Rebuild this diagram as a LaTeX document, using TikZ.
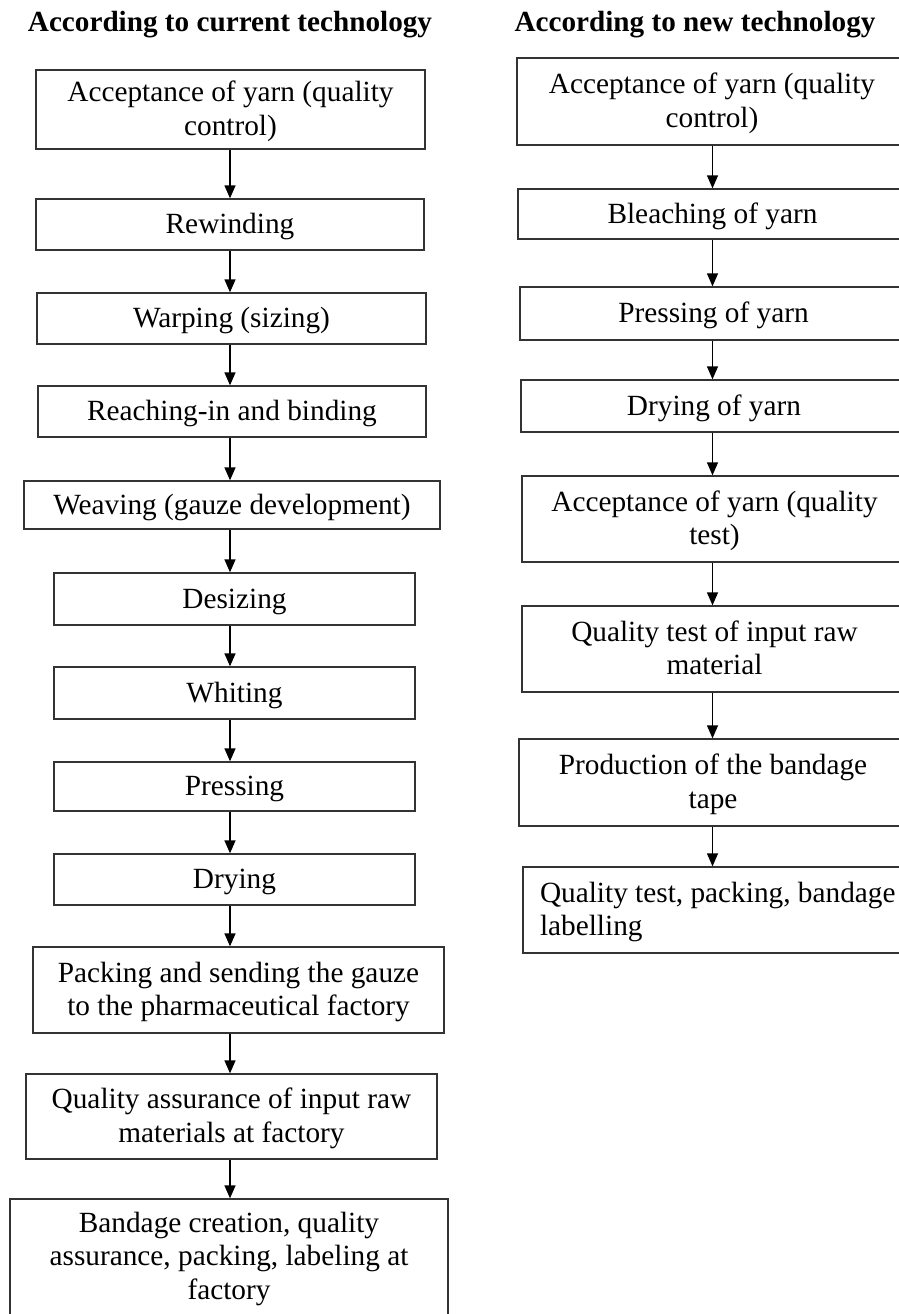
\documentclass[tikz,border=0pt]{standalone}
\usepackage{fontspec}
\setmainfont{Liberation Serif}
\usetikzlibrary{arrows.meta}
\newcommand\Ts{\rule{0pt}{25pt}}
\newcommand\Bs[1][6.6pt]{\rule[-#1]{0pt}{#1}}
\definecolor{edgecol}{gray}{0.2}
\begin{document}
\begin{tikzpicture}[x=1pt,y=-1pt,
  box/.style={draw=edgecol, line width=1.3pt, inner sep=0pt, align=flush center,
    font=\fontsize{29.3}{33.5}\selectfont},
  ttl/.style={font=\fontsize{29.2}{33}\selectfont\bfseries, inner sep=0pt, anchor=base},
  arr/.style={draw=black, line width=1.3pt, -{Triangle[width=11pt,length=13pt]}}]
\useasboundingbox (0,0) rectangle (899,1314);
\fill[white] (0,0) rectangle (899,1314);
\clip (0,0) rectangle (899,1314);
\coordinate (cL) at (230,0);
\coordinate (cR) at (712.5,0);
% titles
\node[ttl] (tL) at (230,32) {According to current technology};
\node[ttl] (tR) at (695,32) {According to new technology};
% left column
\node[box, minimum width=389pt, minimum height=79pt, text width=380pt] (L1) at (230.5,109.5) {\Ts Acceptance of yarn (quality\\control)\Bs};
\node[box, minimum width=388pt, minimum height=51pt, text width=380pt] (L2) at (230,224.5) {\Ts Rewinding\Bs};
\node[box, minimum width=389pt, minimum height=51pt, text width=380pt] (L3) at (231.5,318.5) {\Ts Warping (sizing)\Bs};
\node[box, minimum width=388pt, minimum height=51pt, text width=380pt] (L4) at (232,411.5) {\Ts Reaching-in and binding\Bs};
\node[box, minimum width=416pt, minimum height=48pt, text width=405pt] (L5) at (232,505) {\Ts Weaving (gauze development)\Bs};
\node[box, minimum width=361pt, minimum height=52pt, text width=350pt] (L6) at (234.5,599) {\Ts Desizing\Bs};
\node[box, minimum width=361pt, minimum height=52pt, text width=350pt] (L7) at (234.5,693) {\Ts Whiting\Bs};
\node[box, minimum width=361pt, minimum height=49pt, text width=350pt] (L8) at (234.5,786.5) {\Ts Pressing\Bs};
\node[box, minimum width=361pt, minimum height=51pt, text width=350pt] (L9) at (234.5,879.5) {\Ts Drying\Bs};
\node[box, minimum width=411pt, minimum height=86pt, text width=400pt] (L10) at (238.5,990) {\Ts Packing and sending the gauze\\to the pharmaceutical factory\Bs};
\node[box, minimum width=411pt, minimum height=85pt, text width=400pt] (L11) at (231.5,1116.5) {\Ts Quality assurance of input raw\\materials at factory\Bs};
\node[box, minimum width=438pt, minimum height=131pt, text width=425pt] (L12) at (229,1264.5) {\Ts Bandage creation, quality\\assurance, packing, labeling at\\factory\Bs[23pt]};
% right column
\node[box, minimum width=390pt, minimum height=87pt, text width=380pt] (R1) at (712,101.5) {\Ts Acceptance of yarn (quality\\control)\Bs};
\node[box, minimum width=389pt, minimum height=50pt, text width=380pt] (R2) at (712.5,214) {\Ts Bleaching of yarn\Bs};
\node[box, minimum width=387pt, minimum height=53pt, text width=378pt] (R3) at (713.5,313.5) {\Ts Pressing of yarn\Bs};
\node[box, minimum width=386pt, minimum height=52pt, text width=376pt] (R4) at (714,406) {\Ts Drying of yarn\Bs};
\node[box, minimum width=385pt, minimum height=86pt, text width=375pt] (R5) at (714.5,519) {\Ts Acceptance of yarn (quality\\test)\Bs};
\node[box, minimum width=385pt, minimum height=86pt, text width=375pt] (R6) at (714.5,649) {\Ts Quality test of input raw\\material\Bs};
\node[box, minimum width=388pt, minimum height=87pt, text width=378pt] (R7) at (713,782.5) {\Ts Production of the bandage\\tape\Bs};
\node[box, align=flush left, minimum width=384pt, minimum height=86pt, text width=350pt] (R8) at (715,910) {\Ts\mbox{Quality test, packing, bandage}\\labelling\Bs};
% arrows left
\draw[arr] (L1.south -| cL) -- (L2.north -| cL);
\draw[arr] (L2.south -| cL) -- (L3.north -| cL);
\draw[arr] (L3.south -| cL) -- (L4.north -| cL);
\draw[arr] (L4.south -| cL) -- (L5.north -| cL);
\draw[arr] (L5.south -| cL) -- (L6.north -| cL);
\draw[arr] (L6.south -| cL) -- (L7.north -| cL);
\draw[arr] (L7.south -| cL) -- (L8.north -| cL);
\draw[arr] (L8.south -| cL) -- (L9.north -| cL);
\draw[arr] (L9.south -| cL) -- (L10.north -| cL);
\draw[arr] (L10.south -| cL) -- (L11.north -| cL);
\draw[arr] (L11.south -| cL) -- (L12.north -| cL);
% arrows right
\draw[arr] (R1.south -| cR) -- (R2.north -| cR);
\draw[arr] (R2.south -| cR) -- (R3.north -| cR);
\draw[arr] (R3.south -| cR) -- (R4.north -| cR);
\draw[arr] (R4.south -| cR) -- (R5.north -| cR);
\draw[arr] (R5.south -| cR) -- (R6.north -| cR);
\draw[arr] (R6.south -| cR) -- (R7.north -| cR);
\draw[arr] (R7.south -| cR) -- (R8.north -| cR);
\end{tikzpicture}
\end{document}
